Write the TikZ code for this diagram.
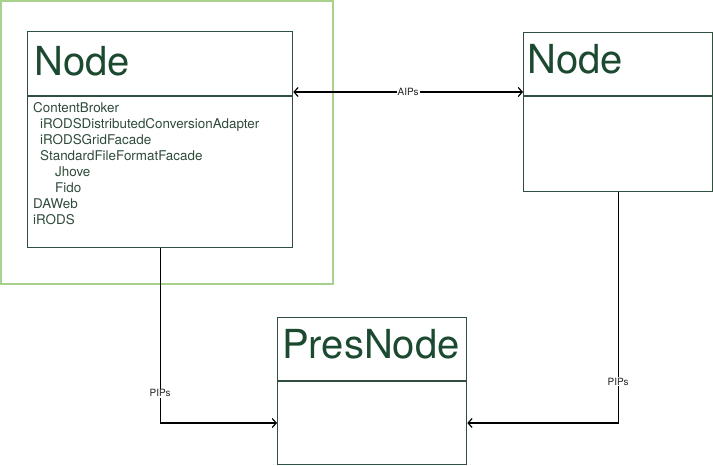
\documentclass[tikz,border=0pt]{standalone}
\usepackage{fontspec}
\setmainfont{TeX Gyre Heros}
\usetikzlibrary{arrows.meta}
\definecolor{boxline}{HTML}{2F4F3F}
\definecolor{titlecol}{HTML}{1C4A30}
\definecolor{bodycol}{HTML}{2E4A3A}
\definecolor{framegreen}{HTML}{A8D18D}
\tikzset{
  umlbox/.style={draw=boxline, line width=1.3pt, inner sep=0pt, anchor=north west},
  divider/.style={draw=boxline, line width=1.3pt},
  titletext/.style={anchor=base west, inner sep=0pt, text=titlecol, font=\fontsize{40}{40}\selectfont},
  bodytext/.style={anchor=base west, inner sep=0pt, text=bodycol, font=\fontsize{13.4}{14}\selectfont},
  conn/.style={draw=black, line width=1.2pt, {Straight Barb[length=4pt,width=9pt]}-{Straight Barb[length=4pt,width=9pt]}},
  connto/.style={draw=black, line width=1.2pt, -{Straight Barb[length=4pt,width=9pt]}},
  lbl/.style={fill=white, inner sep=1pt, font=\fontsize{10}{10}\selectfont, text=black!85}
}
\begin{document}
\begin{tikzpicture}[x=1pt, y=-1pt]
\useasboundingbox (0,0) rectangle (713,466);
% green frame
\draw[framegreen, line width=2pt] (1,1) rectangle (333,284);
% left node
\node[umlbox, minimum width=265pt, minimum height=216pt] (n1) at (27,31) {};
\draw[divider] (27,96) -- (292,96);
\node[titletext] (t1) at (34,75) {Node};
\node[bodytext] (b1) at (33,112) {ContentBroker};
\node[bodytext] (b2) at (40,128) {iRODSDistributedConversionAdapter};
\node[bodytext] (b3) at (40,144) {iRODSGridFacade};
\node[bodytext] (b4) at (40,160) {StandardFileFormatFacade};
\node[bodytext] (b5) at (55,176) {Jhove};
\node[bodytext] (b6) at (55,192) {Fido};
\node[bodytext] (b7) at (33,208) {DAWeb};
\node[bodytext] (b8) at (33,224) {iRODS};
% right node
\node[umlbox, minimum width=189pt, minimum height=159pt] (n2) at (523,32) {};
\draw[divider] (523,96) -- (712,96);
\node[titletext] (t2) at (527,73) {Node};
% pres node
\node[umlbox, minimum width=189pt, minimum height=147pt] (p) at (277,317) {};
\draw[divider] (277,381) -- (466,381);
\node[titletext] (t3) at (282,358) {PresNode};
% connectors
\coordinate (ya) at (0,92);
\coordinate (yp) at (0,423);
\draw[conn] (n1.east |- ya) -- node[lbl] {AIPs} (n2.west |- ya);
\draw[connto] (n1.south) |- node[lbl, pos=0.415] {PIPs} (p.west |- yp);
\draw[connto] (n2.south) |- node[lbl, pos=0.41] {PIPs} (p.east |- yp);
\end{tikzpicture}
\end{document}
